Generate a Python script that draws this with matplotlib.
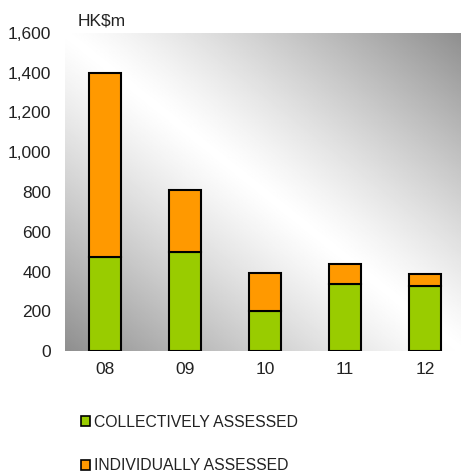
import matplotlib
matplotlib.use('Agg')
import matplotlib.pyplot as plt
import numpy as np
from matplotlib.patches import Patch

plt.rcParams['font.family'] = ['Liberation Sans', 'DejaVu Sans']

# Data
years = ['08', '09', '10', '11', '12']
collective = [475, 500, 200, 335, 325]
individual = [925, 310, 190, 105, 60]

green = '#99CC00'
orange = '#FF9900'

fig = plt.figure(figsize=(4.61, 4.72), dpi=100)
ax = fig.add_axes([65/461, 121/472, 396/461, 318/472])

# diagonal mirrored gradient behind the bars
gx, gy = np.meshgrid(np.linspace(0, 1, 300), np.linspace(0, 1, 300))
t = (gx + gy) / 2
shade = 1 - 0.44 * np.clip(np.abs(t - 0.5) * 2, 0, 1) ** 1.2
ax.imshow(shade, cmap='gray', vmin=0, vmax=1, origin='lower',
          extent=[0, 1, 0, 1], transform=ax.transAxes, aspect='auto', zorder=0)

x = np.arange(len(years))
ax.bar(x, collective, width=0.41, color=green, edgecolor='black', linewidth=1.5, zorder=2)
ax.bar(x, individual, width=0.41, bottom=collective, color=orange, edgecolor='black', linewidth=1.5, zorder=2)

ax.set_xlim(-0.5, 4.45)
ax.set_ylim(0, 1600)
ax.set_yticks(range(0, 1601, 200))
ax.set_yticklabels([f'{v:,}' for v in range(0, 1601, 200)])
ax.set_xticks(x)
ax.set_xticklabels(years)
ax.tick_params(length=0, labelsize=12.5, colors='#222222')
ax.tick_params(axis='y', pad=10)
ax.tick_params(axis='x', pad=8)
for s in ax.spines.values():
    s.set_visible(False)

fig.text(78/461, 1 - 21/472, 'HK$m', fontsize=12.5, va='center', ha='left', color='#222222')

handles = [Patch(facecolor=green, edgecolor='black', linewidth=1.2),
           Patch(facecolor=orange, edgecolor='black', linewidth=1.2)]
fig.legend(handles, ['COLLECTIVELY ASSESSED', 'INDIVIDUALLY ASSESSED'],
           loc='upper left', bbox_to_anchor=(81/461, 1 - 415/472), frameon=False,
           fontsize=11.3, handlelength=0.6, handleheight=0.6, handletextpad=0.2,
           labelspacing=1.8, borderaxespad=0, borderpad=0, labelcolor='#222222')

fig.savefig('out.png', dpi=100)
